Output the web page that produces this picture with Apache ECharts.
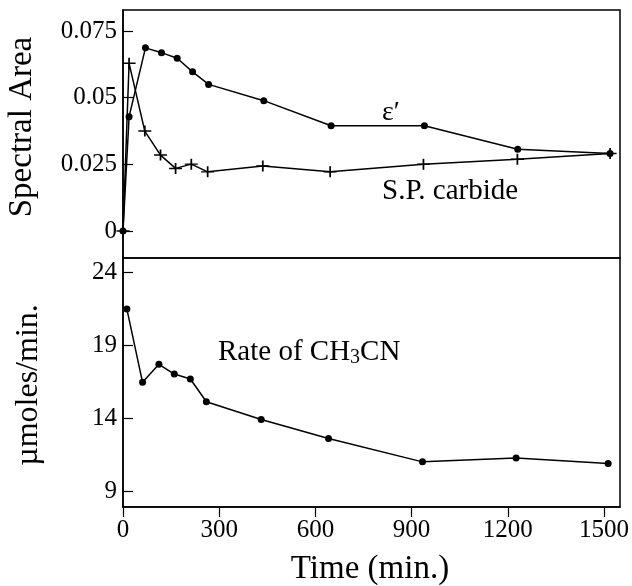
<!DOCTYPE html>
<html>
<head>
<meta charset="utf-8">
<script src="https://cdn.jsdelivr.net/npm/echarts@6/dist/echarts.min.js"></script>
<style>
  html, body { margin: 0; padding: 0; background: #fff; }
  #chart { width: 632px; height: 586px; }
</style>
</head>
<body>
<div id="chart"></div>
<script>
// Time on stream (min.) for each measured series
const timeEps = [0, 19, 70, 120, 169, 217, 267, 439, 649, 940, 1231, 1519];
const timeCarb = [0, 19, 68, 117, 164, 213, 264, 436, 646, 937, 1230, 1519];
const timeRate = [12, 61, 112, 160, 210, 260, 431, 641, 934, 1226, 1513];

// Spectral areas (upper panel)
const epsArea = [0, 0.0429, 0.0687, 0.0669, 0.0648, 0.0597, 0.0550, 0.0489, 0.0395, 0.0395, 0.0307, 0.0291];
const carbArea = [0, 0.0629, 0.0375, 0.0285, 0.0235, 0.0251, 0.0222, 0.0244, 0.0222, 0.0251, 0.0269, 0.0291];

// CH3CN formation rate, µmoles/min. (lower panel)
const rateCH3CN = [21.5, 16.46, 17.7, 17.03, 16.69, 15.13, 13.91, 12.6, 11.0, 11.27, 10.89];

// Tick positions
const timeTicks = [0, 300, 600, 900, 1200, 1500];
const areaTicks = [0, 0.025, 0.05, 0.075];
const areaTickLabels = ['0', '0.025', '0.05', '0.075'];
const rateTicks = [9, 14, 19, 24];

const FONT = '"Liberation Serif", "Times New Roman", serif';
const pair = (xs, ys) => xs.map((x, i) => [x, ys[i]]);

const chart = echarts.init(document.getElementById('chart'), null, { renderer: 'canvas' });

const gridBase = {
  left: 123, right: 12, show: true,
  borderColor: '#000', borderWidth: 1.5, backgroundColor: 'transparent'
};

const plusSymbol = 'path://M0,5H12M6,0V10';

chart.setOption({
  animation: false,
  backgroundColor: '#fff',
  grid: [
    Object.assign({ top: 10, height: 248 }, gridBase),
    Object.assign({ top: 258, bottom: 79 }, gridBase)
  ],
  xAxis: [
    {
      type: 'value', gridIndex: 0, min: 0, max: 1550,
      axisLine: { show: false }, axisTick: { show: false },
      axisLabel: { show: false }, splitLine: { show: false }
    },
    {
      type: 'value', gridIndex: 1, min: 0, max: 1550,
      axisLine: { show: true, lineStyle: { color: '#000', width: 1.5 } },
      axisTick: { show: true, inside: false, length: 10, customValues: timeTicks,
        lineStyle: { color: '#000', width: 1.2 } },
      axisLabel: { show: true, customValues: timeTicks, margin: 11,
        fontFamily: FONT, fontSize: 25, color: '#000',
        formatter: v => String(v) },
      splitLine: { show: false }
    }
  ],
  yAxis: [
    {
      type: 'value', gridIndex: 0, min: -0.0101, max: 0.0829,
      axisLine: { show: true, lineStyle: { color: '#000', width: 1.5 } },
      axisTick: { show: true, inside: true, length: 10, customValues: areaTicks,
        lineStyle: { color: '#000', width: 1.2 } },
      axisLabel: { show: true, customValues: areaTicks, margin: 6,
        fontFamily: FONT, fontSize: 25, color: '#000',
        formatter: v => {
          const i = areaTicks.findIndex(t => Math.abs(t - v) < 1e-9);
          return i >= 0 ? areaTickLabels[i] : '';
        } },
      splitLine: { show: false }
    },
    {
      type: 'value', gridIndex: 1, min: 7.9, max: 25,
      axisLine: { show: true, lineStyle: { color: '#000', width: 1.5 } },
      axisTick: { show: true, inside: true, length: 10, customValues: rateTicks,
        lineStyle: { color: '#000', width: 1.2 } },
      axisLabel: { show: true, customValues: rateTicks, margin: 6,
        fontFamily: FONT, fontSize: 25, color: '#000' },
      splitLine: { show: false }
    }
  ],
  series: [
    {
      name: 'ε′', type: 'line', xAxisIndex: 0, yAxisIndex: 0,
      data: pair(timeEps, epsArea),
      symbol: 'circle', symbolSize: 7, showAllSymbol: true,
      lineStyle: { color: '#000', width: 1.5 },
      itemStyle: { color: '#000' }
    },
    {
      name: 'S.P. carbide', type: 'line', xAxisIndex: 0, yAxisIndex: 0,
      data: pair(timeCarb, carbArea),
      symbol: plusSymbol, symbolSize: [13, 11], showAllSymbol: true,
      lineStyle: { color: '#000', width: 1.5 },
      itemStyle: { color: 'transparent', borderColor: '#000', borderWidth: 1.6 }
    },
    {
      name: 'Rate of CH3CN', type: 'line', xAxisIndex: 1, yAxisIndex: 1,
      data: pair(timeRate, rateCH3CN),
      symbol: 'circle', symbolSize: 7, showAllSymbol: true,
      lineStyle: { color: '#000', width: 1.5 },
      itemStyle: { color: '#000' }
    }
  ],
  graphic: [
    {
      type: 'text', x: 22, y: 127, rotation: Math.PI / 2,
      style: { text: 'Spectral Area', font: '33px ' + FONT, fill: '#000',
        align: 'center', verticalAlign: 'middle' }
    },
    {
      type: 'text', x: 29, y: 385, rotation: Math.PI / 2,
      style: { text: 'µmoles/min.', font: '32px ' + FONT, fill: '#000',
        align: 'center', verticalAlign: 'middle' }
    },
    {
      type: 'text', x: 370, y: 569,
      style: { text: 'Time (min.)', font: '33px ' + FONT, fill: '#000',
        align: 'center', verticalAlign: 'middle' }
    },
    {
      type: 'text', x: 382, y: 113,
      style: { text: 'ε′', font: '28px ' + FONT, fill: '#000',
        align: 'left', verticalAlign: 'middle' }
    },
    {
      type: 'text', x: 382, y: 191,
      style: { text: 'S.P. carbide', font: '29px ' + FONT, fill: '#000',
        align: 'left', verticalAlign: 'middle' }
    },
    {
      type: 'text', x: 218, y: 352,
      style: {
        text: '{a|Rate of CH}{s|3}{a|CN}', fill: '#000',
        align: 'left', verticalAlign: 'middle',
        rich: {
          a: { fontFamily: FONT, fontSize: 29, color: '#000' },
          s: { fontFamily: FONT, fontSize: 20, color: '#000', padding: [12, 0, 0, 0] }
        }
      }
    }
  ]
});
</script>
</body>
</html>
